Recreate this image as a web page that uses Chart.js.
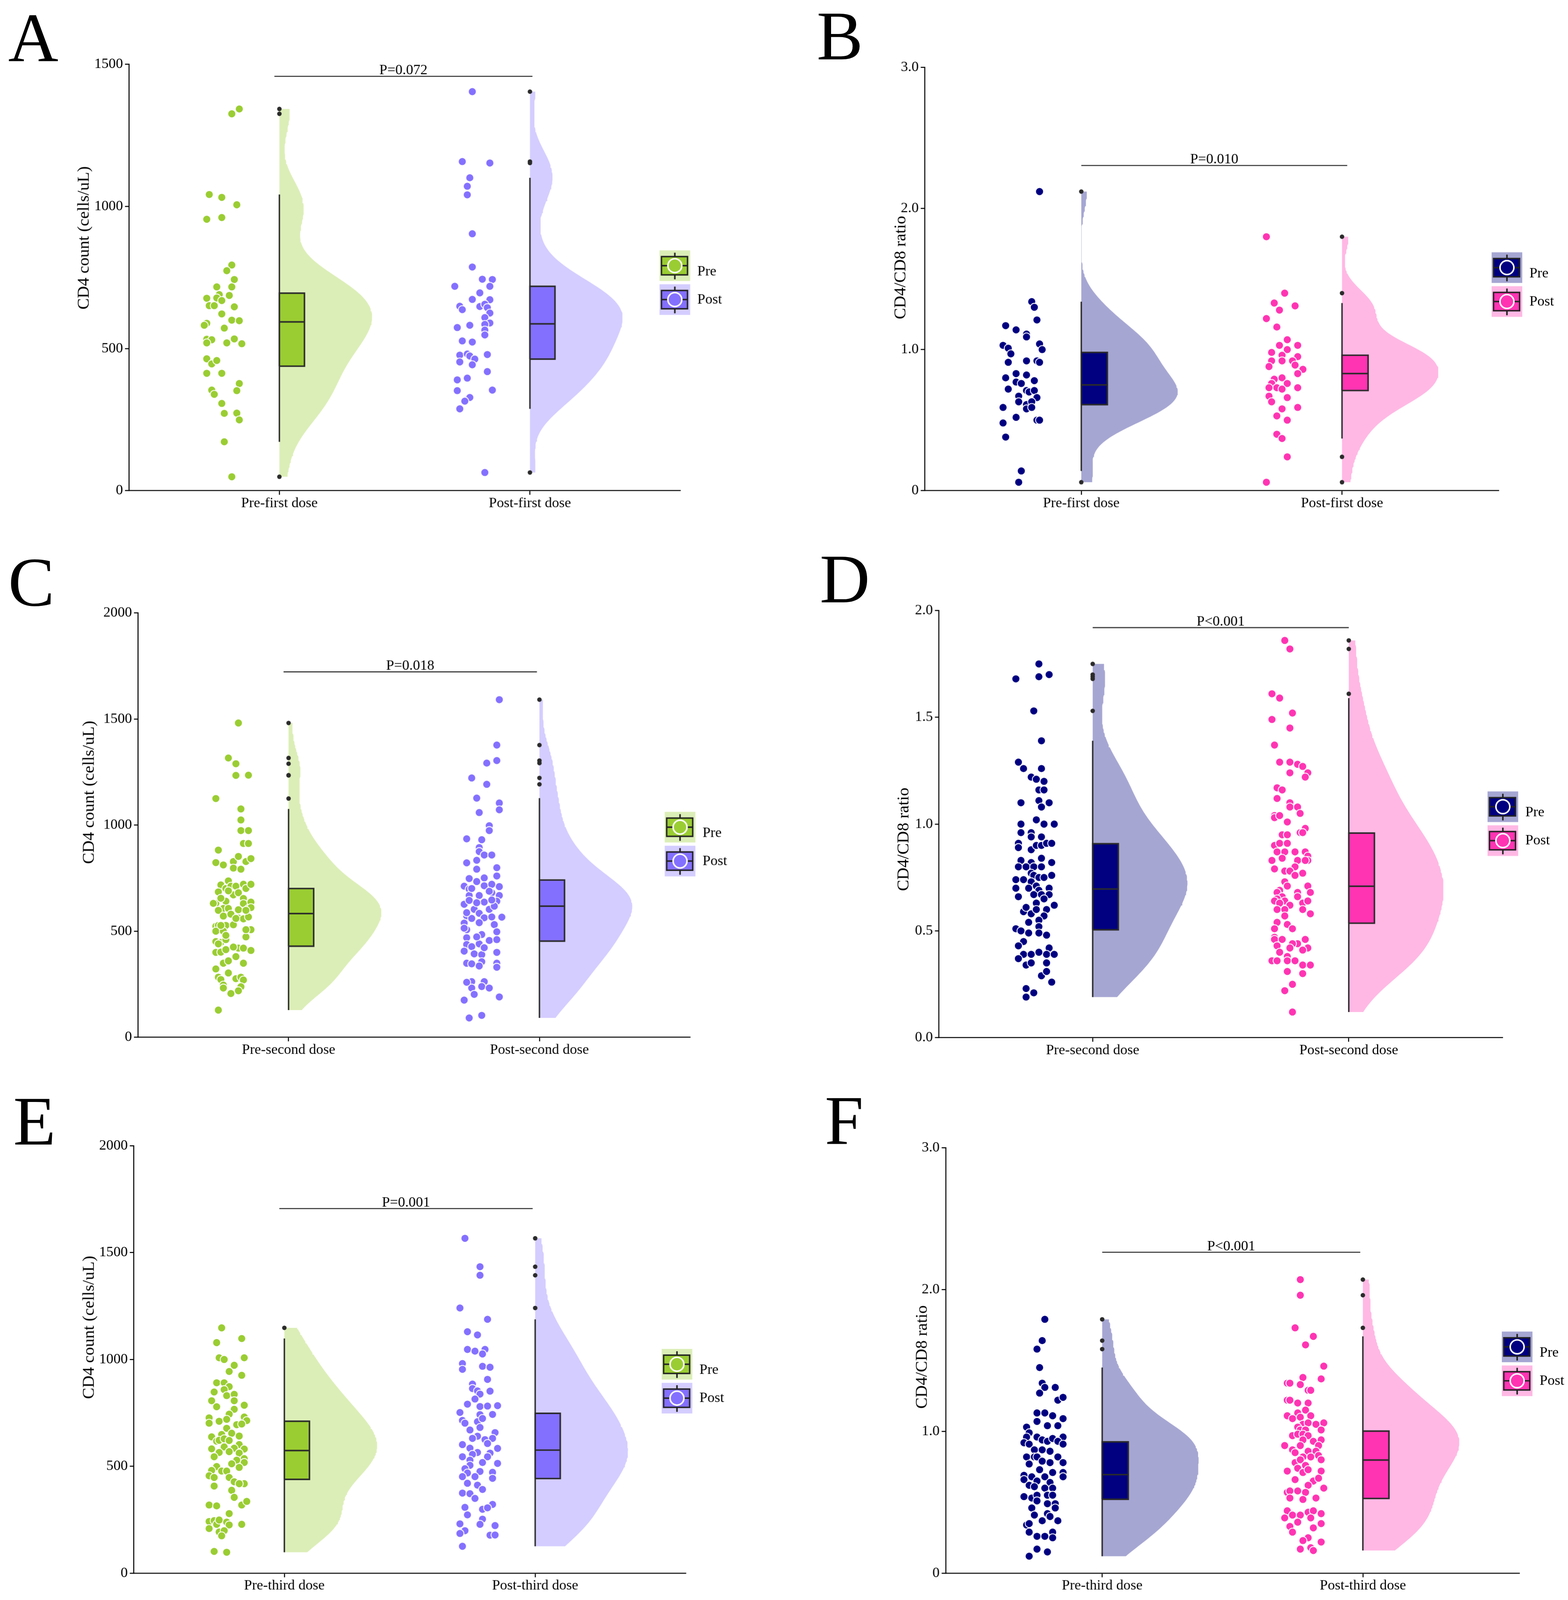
<!DOCTYPE html>
<html>
<head>
<meta charset="UTF-8">
<title>CD4 count and CD4/CD8 ratio before and after each vaccine dose</title>
<script src="https://cdn.jsdelivr.net/npm/chart.js"></script>
<style>
  html, body { margin: 0; padding: 0; background: #fff; overflow: hidden; }
  #page {
    position: absolute; left: 0; top: 0;
    width: 1536px; height: 1569px;
    transform-origin: 0 0;
    background: #fff;
    font-family: 'Liberation Serif', 'Times New Roman', serif;
  }
  #page canvas { position: absolute; }
  .tag { position: absolute; font-size: 68px; line-height: 1; color: #000; }
  .ytitle {
    position: absolute; font-size: 16.5px; white-space: nowrap; color: #000;
    transform: translate(-50%, -50%) rotate(-90deg);
  }
</style>
</head>
<body>
<div id="page">
  <div class="tag" style="left:8px;top:3px">A</div>
  <div class="tag" style="left:800px;top:1px">B</div>
  <div class="tag" style="left:8px;top:536px">C</div>
  <div class="tag" style="left:803px;top:533px">D</div>
  <div class="tag" style="left:13px;top:1064px">E</div>
  <div class="tag" style="left:808px;top:1063px">F</div>
</div>

<script>
// ---------- data ----------
const catsFirst  = ['Pre-first dose', 'Post-first dose'];
const catsSecond = ['Pre-second dose', 'Post-second dose'];
const catsThird  = ['Pre-third dose', 'Post-third dose'];
const groupNames = ['Pre', 'Post'];

const yTicksCount1500 = [0, 500, 1000, 1500];
const yLabelsCount1500 = ['0', '500', '1000', '1500'];
const yTicksCount2000 = [0, 500, 1000, 1500, 2000];
const yLabelsCount2000 = ['0', '500', '1000', '1500', '2000'];
const yTicksRatio3 = [0, 1, 2, 3];
const yLabelsRatio3 = ['0', '1.0', '2.0', '3.0'];
const yTicksRatio2 = [0, 0.5, 1, 1.5, 2];
const yLabelsRatio2 = ['0.0', '0.5', '1.0', '1.5', '2.0'];

// box stats: [lower whisker, q1, median, q3, upper whisker]
// panel A: CD4 count, first dose
const aPre = [1343,1326,1042,1032,1006,955,961,794,774,743,717,717,677,690,678,687,669,651,651,647,622,600,598,589,582,572,533,531,520,520,534,517,464,446,458,413,413,377,354,352,339,307,272,273,249,172,49];
const aPreJit = [-0.16,-0.19,-0.28,-0.23,-0.17,-0.29,-0.23,-0.19,-0.21,-0.18,-0.25,-0.19,-0.29,-0.24,-0.25,-0.20,-0.23,-0.28,-0.26,-0.18,-0.23,-0.19,-0.16,-0.29,-0.30,-0.22,-0.29,-0.27,-0.29,-0.21,-0.18,-0.15,-0.29,-0.27,-0.25,-0.29,-0.23,-0.16,-0.27,-0.17,-0.26,-0.23,-0.22,-0.17,-0.16,-0.22,-0.19];
const aPreBox = [172, 438, 594, 695, 1042];
const aPost = [1404,1158,1153,1101,1071,1041,904,787,744,743,719,719,696,673,672,649,637,648,656,644,625,609,590,582,585,574,565,548,527,523,477,481,474,479,463,453,443,419,390,396,352,354,328,315,288,64];
const aPostJit = [-0.23,-0.27,-0.16,-0.24,-0.25,-0.25,-0.23,-0.23,-0.19,-0.15,-0.30,-0.16,-0.20,-0.23,-0.16,-0.28,-0.27,-0.20,-0.18,-0.17,-0.16,-0.18,-0.16,-0.24,-0.18,-0.29,-0.18,-0.18,-0.27,-0.23,-0.28,-0.25,-0.24,-0.17,-0.22,-0.28,-0.23,-0.17,-0.29,-0.25,-0.29,-0.15,-0.24,-0.26,-0.28,-0.18];
const aPostBox = [288, 463, 587, 719, 1101];
const aBar = [0.98, 2.01, 1458];

// panel B: CD4/CD8 ratio, first dose
const bPre = [2.12,1.34,1.30,1.21,1.17,1.14,1.11,1.09,1.03,1.04,1.01,1.00,0.97,0.91,0.92,0.92,0.91,0.83,0.80,0.82,0.77,0.76,0.78,0.72,0.71,0.70,0.71,0.67,0.66,0.63,0.61,0.63,0.58,0.59,0.59,0.52,0.50,0.50,0.48,0.38,0.14,0.06];
const bPreJit = [-0.16,-0.19,-0.18,-0.17,-0.29,-0.25,-0.21,-0.21,-0.30,-0.16,-0.28,-0.15,-0.27,-0.28,-0.21,-0.17,-0.16,-0.25,-0.29,-0.21,-0.25,-0.23,-0.18,-0.28,-0.21,-0.20,-0.18,-0.24,-0.17,-0.24,-0.21,-0.19,-0.21,-0.19,-0.30,-0.25,-0.17,-0.16,-0.30,-0.29,-0.23,-0.24];
const bPreBox = [0.14, 0.61, 0.75, 0.98, 1.34];
const bPost = [1.80,1.40,1.33,1.28,1.31,1.22,1.16,1.07,1.03,1.03,1.00,0.98,0.96,0.95,0.92,0.92,0.92,0.89,0.88,0.86,0.83,0.79,0.80,0.76,0.76,0.73,0.73,0.72,0.73,0.67,0.66,0.63,0.59,0.58,0.53,0.50,0.40,0.37,0.24,0.06];
const bPostJit = [-0.29,-0.22,-0.26,-0.24,-0.18,-0.29,-0.25,-0.21,-0.24,-0.17,-0.21,-0.27,-0.23,-0.17,-0.27,-0.23,-0.19,-0.18,-0.28,-0.15,-0.17,-0.26,-0.23,-0.27,-0.21,-0.25,-0.28,-0.23,-0.17,-0.28,-0.21,-0.27,-0.17,-0.23,-0.25,-0.21,-0.25,-0.23,-0.21,-0.29];
const bPostBox = [0.37, 0.71, 0.83, 0.96, 1.33];
const bBar = [1.0, 2.02, 2.305];

// panel C: CD4 count, second dose
const cPre = [1481,1316,1289,1234,1235,1125,1076,1024,974,974,913,913,882,823,812,828,852,828,842,797,792,737,718,701,712,712,721,701,721,685,671,681,654,631,641,630,637,607,607,601,598,607,611,571,580,562,558,567,523,527,527,530,500,500,507,473,451,447,460,429,420,420,409,400,401,413,380,349,360,349,322,303,283,272,276,283,270,246,232,238,206,219,128,631,527,598,507,440,425,480,690,560,655];
const cPreJit = [-0.20,-0.24,-0.21,-0.21,-0.16,-0.29,-0.19,-0.19,-0.19,-0.16,-0.18,-0.16,-0.28,-0.29,-0.26,-0.22,-0.20,-0.17,-0.15,-0.22,-0.19,-0.24,-0.27,-0.25,-0.23,-0.21,-0.18,-0.17,-0.15,-0.28,-0.22,-0.20,-0.18,-0.29,-0.25,-0.18,-0.15,-0.26,-0.24,-0.20,-0.28,-0.16,-0.15,-0.26,-0.23,-0.20,-0.18,-0.16,-0.29,-0.28,-0.25,-0.22,-0.29,-0.26,-0.15,-0.17,-0.29,-0.27,-0.25,-0.22,-0.20,-0.18,-0.15,-0.29,-0.27,-0.25,-0.21,-0.26,-0.24,-0.18,-0.29,-0.24,-0.28,-0.27,-0.21,-0.19,-0.18,-0.26,-0.26,-0.19,-0.23,-0.20,-0.28,-0.30,-0.27,-0.17,-0.17,-0.28,-0.22,-0.25,-0.24,-0.21,-0.27];
const cPreBox = [128, 429, 583, 701, 1076];
const cPost = [1591,1377,1304,1292,1222,1192,1127,1104,1072,1059,997,974,935,931,894,875,859,859,834,822,792,799,760,748,751,734,712,698,714,721,710,668,668,681,668,627,645,637,641,603,584,603,618,572,560,563,567,566,538,540,531,507,484,497,469,456,460,437,427,440,406,393,389,400,349,346,356,336,349,330,262,232,262,239,232,202,190,175,91,103,701,688,514,634,587,647,473,422,259];
const cPostJit = [-0.16,-0.17,-0.17,-0.21,-0.27,-0.21,-0.25,-0.16,-0.16,-0.24,-0.20,-0.20,-0.29,-0.23,-0.24,-0.24,-0.22,-0.19,-0.25,-0.29,-0.25,-0.17,-0.17,-0.28,-0.22,-0.25,-0.30,-0.28,-0.22,-0.19,-0.16,-0.28,-0.24,-0.19,-0.16,-0.30,-0.28,-0.22,-0.17,-0.26,-0.24,-0.20,-0.18,-0.29,-0.27,-0.22,-0.19,-0.15,-0.30,-0.24,-0.18,-0.29,-0.23,-0.17,-0.29,-0.20,-0.17,-0.29,-0.27,-0.24,-0.30,-0.26,-0.23,-0.17,-0.29,-0.27,-0.23,-0.24,-0.17,-0.17,-0.27,-0.27,-0.22,-0.23,-0.20,-0.26,-0.16,-0.30,-0.28,-0.23,-0.27,-0.20,-0.30,-0.25,-0.29,-0.19,-0.25,-0.22,-0.29];
const cPostBox = [91, 453, 618, 741, 1127];
const cBar = [0.98, 1.99, 1722];

// panel D: CD4/CD8 ratio, second dose
const dPre = [1.75,1.68,1.69,1.70,1.53,1.39,1.29,1.26,1.26,1.22,1.21,1.20,1.16,1.16,1.10,1.11,1.10,1.08,1.02,1.00,1.00,1.00,0.96,0.96,0.94,0.94,0.91,0.89,0.88,0.90,0.90,0.91,0.91,0.83,0.84,0.82,0.80,0.80,0.80,0.80,0.82,0.77,0.76,0.75,0.75,0.76,0.74,0.74,0.73,0.70,0.70,0.71,0.69,0.70,0.66,0.67,0.67,0.67,0.63,0.65,0.62,0.59,0.61,0.58,0.60,0.60,0.57,0.55,0.54,0.51,0.50,0.49,0.52,0.49,0.48,0.45,0.43,0.42,0.39,0.37,0.34,0.39,0.35,0.40,0.39,0.39,0.35,0.29,0.31,0.26,0.23,0.21,0.19];
const dPreJit = [-0.21,-0.30,-0.21,-0.17,-0.23,-0.20,-0.29,-0.27,-0.20,-0.24,-0.22,-0.19,-0.21,-0.19,-0.28,-0.21,-0.17,-0.20,-0.22,-0.28,-0.19,-0.15,-0.28,-0.24,-0.24,-0.20,-0.29,-0.29,-0.24,-0.22,-0.20,-0.18,-0.16,-0.28,-0.20,-0.24,-0.29,-0.26,-0.23,-0.20,-0.16,-0.24,-0.23,-0.21,-0.19,-0.16,-0.30,-0.27,-0.24,-0.30,-0.25,-0.22,-0.21,-0.17,-0.29,-0.23,-0.20,-0.17,-0.22,-0.19,-0.15,-0.27,-0.26,-0.24,-0.22,-0.18,-0.19,-0.21,-0.25,-0.30,-0.28,-0.25,-0.21,-0.21,-0.18,-0.27,-0.29,-0.17,-0.27,-0.29,-0.26,-0.24,-0.24,-0.21,-0.18,-0.15,-0.18,-0.20,-0.18,-0.16,-0.26,-0.23,-0.26];
const dPreBox = [0.19, 0.505, 0.696, 0.908, 1.39];
const dPost = [1.86,1.82,1.61,1.59,1.52,1.49,1.45,1.37,1.29,1.29,1.28,1.27,1.24,1.24,1.22,1.17,1.16,1.12,1.10,1.08,1.08,1.05,1.04,1.03,1.04,1.01,0.98,0.96,0.96,0.95,0.95,0.90,0.91,0.91,0.87,0.87,0.87,0.87,0.85,0.84,0.83,0.83,0.83,0.83,0.80,0.79,0.78,0.78,0.76,0.77,0.73,0.71,0.71,0.69,0.68,0.68,0.68,0.66,0.66,0.65,0.64,0.64,0.63,0.64,0.63,0.62,0.60,0.60,0.60,0.58,0.57,0.54,0.53,0.51,0.51,0.47,0.46,0.46,0.46,0.44,0.44,0.43,0.42,0.42,0.41,0.40,0.38,0.36,0.36,0.36,0.36,0.34,0.34,0.30,0.31,0.25,0.22,0.12];
const dPostJit = [-0.25,-0.23,-0.30,-0.27,-0.22,-0.30,-0.23,-0.29,-0.27,-0.23,-0.20,-0.18,-0.16,-0.23,-0.17,-0.28,-0.26,-0.28,-0.23,-0.23,-0.20,-0.19,-0.29,-0.29,-0.27,-0.24,-0.17,-0.19,-0.18,-0.26,-0.24,-0.29,-0.27,-0.24,-0.28,-0.25,-0.21,-0.17,-0.16,-0.26,-0.30,-0.20,-0.16,-0.17,-0.21,-0.29,-0.25,-0.23,-0.21,-0.18,-0.25,-0.24,-0.16,-0.27,-0.15,-0.28,-0.20,-0.26,-0.20,-0.28,-0.29,-0.25,-0.18,-0.16,-0.27,-0.23,-0.28,-0.25,-0.18,-0.15,-0.25,-0.28,-0.24,-0.22,-0.29,-0.29,-0.29,-0.26,-0.17,-0.20,-0.22,-0.28,-0.23,-0.16,-0.18,-0.27,-0.24,-0.30,-0.28,-0.24,-0.21,-0.18,-0.15,-0.18,-0.24,-0.22,-0.25,-0.22];
const dPostBox = [0.12, 0.536, 0.709, 0.958, 1.59];
const dBar = [1.0, 2.0, 1.92];

// panel E: CD4 count, third dose
const ePre = [1148,1079,1098,1008,1000,1008,973,944,926,891,891,873,859,831,848,837,807,807,779,786,767,744,727,702,711,720,695,731,714,698,678,655,649,642,638,618,622,629,621,602,591,582,585,581,565,545,569,562,536,529,512,518,495,499,481,478,478,456,448,448,428,419,419,408,388,355,319,315,319,336,279,242,246,229,249,239,226,209,193,199,175,229,102,98];
const ePreJit = [-0.25,-0.27,-0.17,-0.26,-0.24,-0.16,-0.20,-0.22,-0.17,-0.27,-0.24,-0.22,-0.24,-0.23,-0.28,-0.20,-0.20,-0.29,-0.27,-0.16,-0.20,-0.22,-0.30,-0.30,-0.26,-0.23,-0.19,-0.16,-0.15,-0.17,-0.23,-0.21,-0.25,-0.18,-0.29,-0.27,-0.26,-0.24,-0.22,-0.18,-0.24,-0.29,-0.20,-0.16,-0.26,-0.28,-0.22,-0.18,-0.16,-0.19,-0.21,-0.16,-0.18,-0.27,-0.29,-0.25,-0.23,-0.30,-0.28,-0.22,-0.20,-0.16,-0.18,-0.28,-0.21,-0.20,-0.30,-0.27,-0.17,-0.15,-0.22,-0.30,-0.28,-0.27,-0.26,-0.23,-0.22,-0.30,-0.26,-0.24,-0.25,-0.17,-0.28,-0.23];
const ePreBox = [98, 439, 574, 711, 1098];
const ePost = [1567,1434,1394,1241,1188,1130,1115,1047,1039,1047,1026,981,954,968,964,907,885,864,853,838,852,815,791,780,782,784,752,742,743,715,702,709,724,682,670,658,641,631,625,631,602,585,607,584,565,556,562,545,545,529,518,514,505,489,469,476,472,452,452,444,421,412,392,375,372,350,322,308,299,306,273,253,229,231,223,199,186,178,179,126];
const ePostJit = [-0.28,-0.22,-0.22,-0.30,-0.19,-0.27,-0.23,-0.27,-0.24,-0.20,-0.21,-0.29,-0.29,-0.21,-0.18,-0.19,-0.25,-0.25,-0.23,-0.22,-0.18,-0.24,-0.27,-0.22,-0.19,-0.15,-0.30,-0.22,-0.17,-0.29,-0.28,-0.23,-0.21,-0.22,-0.26,-0.16,-0.23,-0.25,-0.20,-0.17,-0.29,-0.26,-0.19,-0.15,-0.23,-0.25,-0.18,-0.19,-0.29,-0.26,-0.21,-0.15,-0.26,-0.28,-0.27,-0.22,-0.17,-0.29,-0.24,-0.17,-0.27,-0.23,-0.21,-0.29,-0.26,-0.24,-0.17,-0.28,-0.21,-0.19,-0.27,-0.21,-0.22,-0.30,-0.16,-0.28,-0.30,-0.18,-0.16,-0.29];
const ePostBox = [126, 443, 576, 748, 1188];
const eBar = [0.98, 1.99, 1706];

// panel F: CD4/CD8 ratio, third dose
const fPre = [1.79,1.64,1.58,1.45,1.34,1.31,1.27,1.31,1.22,1.24,1.13,1.13,1.11,1.09,1.07,1.04,1.04,1.03,0.99,0.96,0.96,0.94,0.93,0.95,0.96,0.92,0.91,0.93,0.91,0.87,0.87,0.86,0.82,0.82,0.82,0.82,0.77,0.79,0.78,0.78,0.73,0.71,0.71,0.69,0.68,0.68,0.68,0.66,0.65,0.64,0.62,0.61,0.60,0.60,0.54,0.53,0.55,0.55,0.55,0.51,0.49,0.49,0.46,0.46,0.41,0.42,0.40,0.34,0.35,0.37,0.37,0.29,0.26,0.26,0.29,0.25,0.17,0.15,0.12];
const fPreJit = [-0.22,-0.23,-0.25,-0.24,-0.23,-0.22,-0.24,-0.18,-0.17,-0.15,-0.25,-0.22,-0.19,-0.15,-0.25,-0.21,-0.17,-0.29,-0.28,-0.25,-0.29,-0.23,-0.21,-0.19,-0.15,-0.30,-0.28,-0.17,-0.15,-0.26,-0.23,-0.20,-0.29,-0.26,-0.25,-0.17,-0.28,-0.23,-0.20,-0.15,-0.24,-0.19,-0.15,-0.30,-0.27,-0.22,-0.15,-0.30,-0.25,-0.20,-0.28,-0.26,-0.22,-0.19,-0.30,-0.27,-0.25,-0.21,-0.19,-0.25,-0.21,-0.18,-0.27,-0.18,-0.26,-0.21,-0.20,-0.29,-0.28,-0.23,-0.17,-0.28,-0.25,-0.22,-0.19,-0.19,-0.25,-0.21,-0.28];
const fPreBox = [0.12, 0.521, 0.695, 0.926, 1.45];
const fPost = [2.07,1.96,1.73,1.67,1.61,1.46,1.38,1.37,1.34,1.34,1.33,1.29,1.29,1.22,1.22,1.20,1.20,1.13,1.15,1.11,1.11,1.09,1.10,1.05,1.06,1.05,1.06,1.03,1.01,1.01,1.01,0.97,0.98,0.98,0.97,0.94,0.93,0.94,0.90,0.90,0.90,0.87,0.85,0.86,0.86,0.82,0.82,0.83,0.78,0.80,0.76,0.80,0.74,0.71,0.73,0.72,0.72,0.66,0.65,0.67,0.62,0.60,0.57,0.58,0.58,0.57,0.53,0.52,0.53,0.44,0.41,0.39,0.41,0.43,0.44,0.42,0.36,0.39,0.35,0.33,0.29,0.32,0.25,0.23,0.22,0.17,0.18,0.16];
const fPostJit = [-0.24,-0.24,-0.26,-0.19,-0.22,-0.15,-0.23,-0.16,-0.29,-0.28,-0.24,-0.21,-0.20,-0.29,-0.28,-0.25,-0.21,-0.25,-0.22,-0.20,-0.29,-0.27,-0.24,-0.23,-0.21,-0.18,-0.15,-0.25,-0.24,-0.22,-0.16,-0.27,-0.25,-0.23,-0.21,-0.23,-0.19,-0.16,-0.30,-0.24,-0.17,-0.27,-0.26,-0.21,-0.18,-0.23,-0.20,-0.17,-0.26,-0.24,-0.22,-0.16,-0.25,-0.23,-0.21,-0.29,-0.16,-0.26,-0.19,-0.17,-0.21,-0.15,-0.29,-0.28,-0.25,-0.22,-0.28,-0.23,-0.18,-0.29,-0.27,-0.30,-0.24,-0.21,-0.19,-0.16,-0.25,-0.20,-0.16,-0.28,-0.27,-0.19,-0.21,-0.23,-0.16,-0.24,-0.20,-0.19];
const fPostBox = [0.16, 0.527, 0.798, 1.002, 1.67];
const fBar = [1.0, 1.99, 2.263];

// ---------- look ----------
const S = 4015 / 1536;          // page is laid out at 1536 px wide and scaled to the window
const FONT = "'Liberation Serif', 'Times New Roman', serif";
const GREEN = '#9ACD32', GREEN_L = 'rgba(154,205,50,0.35)';
const PURPLE = '#8470FF', PURPLE_L = 'rgba(132,112,255,0.35)';
const NAVY = '#000080', NAVY_L = 'rgba(0,0,128,0.35)';
const PINK = '#FF34B3', PINK_L = 'rgba(255,52,179,0.35)';
const INK = '#2b2b2b';
const BOX_W = 0.1, VIOLIN_W = 0.37, X_AXIS_H = 24;

const page = document.getElementById('page');
page.style.transform = 'scale(' + S + ')';
Chart.defaults.font.family = FONT;

const countGroups = (pre, preJit, preBox, post, postJit, postBox) => [
  {vals: pre, jit: preJit, box: preBox, col: GREEN, light: GREEN_L},
  {vals: post, jit: postJit, box: postBox, col: PURPLE, light: PURPLE_L}
];
const ratioGroups = (pre, preJit, preBox, post, postJit, postBox) => [
  {vals: pre, jit: preJit, box: preBox, col: NAVY, light: NAVY_L},
  {vals: post, jit: postJit, box: postBox, col: PINK, light: PINK_L}
];

// canvas: [x, y, w, h]; area: plot box [left, top, right, bottom]; all in page px
const panels = [
  {id: 'A', cats: catsFirst, title: 'CD4 count (cells/uL)', yMax: 1500, yTicks: yTicksCount1500, yLabels: yLabelsCount1500,
   groups: countGroups(aPre, aPreJit, aPreBox, aPost, aPostJit, aPostBox), bar: aBar, pText: 'P=0.072',
   canvas: [0, 0, 768, 535], area: [126.4, 63, 666.2, 480.4], titleAt: [82, 233], keyAt: [645.9, 245.1]},
  {id: 'B', cats: catsFirst, title: 'CD4/CD8 ratio', yMax: 3, yTicks: yTicksRatio3, yLabels: yLabelsRatio3,
   groups: ratioGroups(bPre, bPreJit, bPreBox, bPost, bPostJit, bPostBox), bar: bBar, pText: 'P=0.010',
   canvas: [768, 0, 768, 535], area: [905.9, 66, 1467.7, 480.4], titleAt: [882, 262], keyAt: [1461, 247]},
  {id: 'C', cats: catsSecond, title: 'CD4 count (cells/uL)', yMax: 2000, yTicks: yTicksCount2000, yLabels: yLabelsCount2000,
   groups: countGroups(cPre, cPreJit, cPreBox, cPost, cPostJit, cPostBox), bar: cBar, pText: 'P=0.018',
   canvas: [0, 535, 768, 530], area: [135.2, 600.2, 675.7, 1015.7], titleAt: [87, 776], keyAt: [651, 795]},
  {id: 'D', cats: catsSecond, title: 'CD4/CD8 ratio', yMax: 2, yTicks: yTicksRatio2, yLabels: yLabelsRatio2,
   groups: ratioGroups(dPre, dPreJit, dPreBox, dPost, dPostJit, dPostBox), bar: dBar, pText: 'P<0.001',
   canvas: [768, 535, 768, 530], area: [919.8, 597.9, 1471.6, 1016.1], titleAt: [885, 822], keyAt: [1457, 775]},
  {id: 'E', cats: catsThird, title: 'CD4 count (cells/uL)', yMax: 2000, yTicks: yTicksCount2000, yLabels: yLabelsCount2000,
   groups: countGroups(ePre, ePreJit, ePreBox, ePost, ePostJit, ePostBox), bar: eBar, pText: 'P=0.001',
   canvas: [0, 1065, 768, 504], area: [131.1, 1122.1, 671.5, 1540.6], titleAt: [87, 1300], keyAt: [648, 1321]},
  {id: 'F', cats: catsThird, title: 'CD4/CD8 ratio', yMax: 3, yTicks: yTicksRatio3, yLabels: yLabelsRatio3,
   groups: ratioGroups(fPre, fPreJit, fPreBox, fPost, fPostJit, fPostBox), bar: fBar, pText: 'P<0.001',
   canvas: [768, 1065, 768, 504], area: [926.4, 1124, 1488.1, 1540.6], titleAt: [903, 1329], keyAt: [1471, 1304]}
];

// gaussian kernel density, bandwidth like R's nrd0, trimmed to the data range
function density(vals) {
  const s = vals.slice().sort((a, b) => a - b);
  const n = s.length;
  const mean = s.reduce((a, b) => a + b, 0) / n;
  const sd = Math.sqrt(s.reduce((a, v) => a + (v - mean) * (v - mean), 0) / (n - 1));
  const q = f => { const h = (n - 1) * f, i = Math.floor(h); return s[i] + (h - i) * ((i + 1 < n ? s[i + 1] : s[i]) - s[i]); };
  const bw = 0.9 * Math.min(sd, (q(0.75) - q(0.25)) / 1.34) * Math.pow(n, -0.2);
  const out = [];
  const steps = 160;
  for (let k = 0; k <= steps; k++) {
    const y = s[0] + (s[n - 1] - s[0]) * k / steps;
    let d = 0;
    for (const v of s) { const z = (y - v) / bw; d += Math.exp(-0.5 * z * z); }
    out.push({y, d});
  }
  const m = Math.max(...out.map(o => o.d));
  return out.map(o => ({y: o.y, d: o.d / m}));
}

function groupDatasets(g, c) {
  const [wlo, q1, med, q3, whi] = g.box;
  const dens = density(g.vals);
  const lo = dens[0].y, hi = dens[dens.length - 1].y;
  const violin = [{x: c, y: lo}].concat(dens.map(o => ({x: c + VIOLIN_W * o.d, y: o.y})), [{x: c, y: hi}]);
  return [
    {data: g.vals.map((v, i) => ({x: c + (g.jit[i] ?? -0.22), y: v})),
     backgroundColor: g.col, borderColor: '#fff', borderWidth: 0.8, pointRadius: 3.9, order: 0},
    {data: g.vals.filter(v => v < wlo || v > whi).map(v => ({x: c, y: v})),
     backgroundColor: INK, borderWidth: 0, pointRadius: 2.2, order: 1},
    {showLine: true, data: [{x: c, y: med}, {x: c + BOX_W, y: med}],
     borderColor: INK, borderWidth: 1.5, pointRadius: 0, order: 2},
    {showLine: true, fill: 'shape',
     data: [{x: c, y: q1}, {x: c + BOX_W, y: q1}, {x: c + BOX_W, y: q3}, {x: c, y: q3}, {x: c, y: q1}],
     backgroundColor: g.col, borderColor: INK, borderWidth: 1.5, pointRadius: 0, order: 3},
    {showLine: true, data: [{x: c, y: wlo}, {x: c, y: whi}],
     borderColor: INK, borderWidth: 1.4, pointRadius: 0, order: 4},
    {showLine: true, fill: 'shape', data: violin,
     backgroundColor: g.light, borderColor: 'rgba(0,0,0,0)', borderWidth: 0, pointRadius: 0, order: 5}
  ];
}

// p-value text above the bracket, and the legend keys
function annotations(p) {
  return {
    id: 'annot' + p.id,
    afterDatasetsDraw(chart) {
      const {ctx} = chart;
      const x = chart.scales.x, y = chart.scales.y;
      ctx.save();
      ctx.font = '14px ' + FONT;
      ctx.fillStyle = '#000';
      ctx.textAlign = 'center';
      ctx.textBaseline = 'alphabetic';
      const mid = (x.getPixelForValue(p.bar[0]) + x.getPixelForValue(p.bar[1])) / 2;
      ctx.fillText(p.pText, mid, y.getPixelForValue(p.bar[2]) - 2);

      const kx = p.keyAt[0] - p.canvas[0], ky = p.keyAt[1] - p.canvas[1];
      p.groups.forEach((g, i) => {
        const top = ky + i * 33.2;
        ctx.fillStyle = g.light;
        ctx.fillRect(kx, top, 30, 30);
        ctx.strokeStyle = '#222';
        ctx.lineWidth = 1.5;
        ctx.beginPath();
        ctx.moveTo(kx + 15, top + 2.3); ctx.lineTo(kx + 15, top + 28.4);
        ctx.stroke();
        ctx.fillStyle = g.col;
        ctx.fillRect(kx + 1.9, top + 6.1, 25.5, 17.9);
        ctx.lineWidth = 1.4;
        ctx.strokeRect(kx + 1.9, top + 6.1, 25.5, 17.9);
        ctx.beginPath();
        ctx.moveTo(kx + 1.9, top + 15); ctx.lineTo(kx + 27.4, top + 15);
        ctx.stroke();
        ctx.beginPath();
        ctx.arc(kx + 15, top + 15, 6.8, 0, Math.PI * 2);
        ctx.fillStyle = g.col; ctx.fill();
        ctx.strokeStyle = '#fff'; ctx.lineWidth = 1.5; ctx.stroke();
        ctx.fillStyle = '#000';
        ctx.textAlign = 'left';
        ctx.fillText(groupNames[i], kx + 37, top + (i === 0 ? 24.5 : 18.8));
      });
      ctx.restore();
    }
  };
}

function makePanel(p) {
  const [cx, cy, cw, ch] = p.canvas;
  const [al, at, ar, ab] = p.area;
  const cv = document.createElement('canvas');
  cv.width = cw; cv.height = ch;
  cv.style.left = cx + 'px'; cv.style.top = cy + 'px';
  page.appendChild(cv);

  const t = document.createElement('div');
  t.className = 'ytitle';
  t.textContent = p.title;
  t.style.left = p.titleAt[0] + 'px';
  t.style.top = p.titleAt[1] + 'px';
  page.appendChild(t);

  let datasets = [];
  p.groups.forEach((g, i) => { datasets = datasets.concat(groupDatasets(g, i + 1)); });
  datasets.push({showLine: true, data: [{x: p.bar[0], y: p.bar[2]}, {x: p.bar[1], y: p.bar[2]}],
                 borderColor: INK, borderWidth: 1, pointRadius: 0, order: 0});

  const axisGrid = {display: true, drawOnChartArea: false, drawTicks: true, tickLength: 4, color: '#000', lineWidth: 1};
  const axisBorder = {display: true, color: '#000', width: 1};

  new Chart(cv, {
    type: 'scatter',
    data: {datasets},
    options: {
      responsive: false,
      animation: false,
      devicePixelRatio: S,
      events: [],
      layout: {padding: {left: 0, top: at - cy, right: cx + cw - ar, bottom: cy + ch - ab - X_AXIS_H}},
      plugins: {legend: {display: false}, tooltip: {enabled: false}},
      scales: {
        x: {
          type: 'linear', min: 0.4, max: 2.6,
          afterBuildTicks: s => { s.ticks = [{value: 1}, {value: 2}]; },
          afterFit: s => { s.height = X_AXIS_H; },
          ticks: {callback: (v, i) => p.cats[i], font: {size: 14}, color: '#000', padding: 0, autoSkip: false, maxRotation: 0},
          grid: axisGrid, border: axisBorder
        },
        y: {
          type: 'linear', min: 0, max: p.yMax,
          afterBuildTicks: s => { s.ticks = p.yTicks.map(v => ({value: v})); },
          afterFit: s => { s.width = al - cx; },
          ticks: {callback: (v, i) => p.yLabels[i], font: {size: 14}, color: '#000', padding: 2},
          grid: axisGrid, border: axisBorder
        }
      }
    },
    plugins: [annotations(p)]
  });
}

panels.forEach(makePanel);
</script>
</body>
</html>
